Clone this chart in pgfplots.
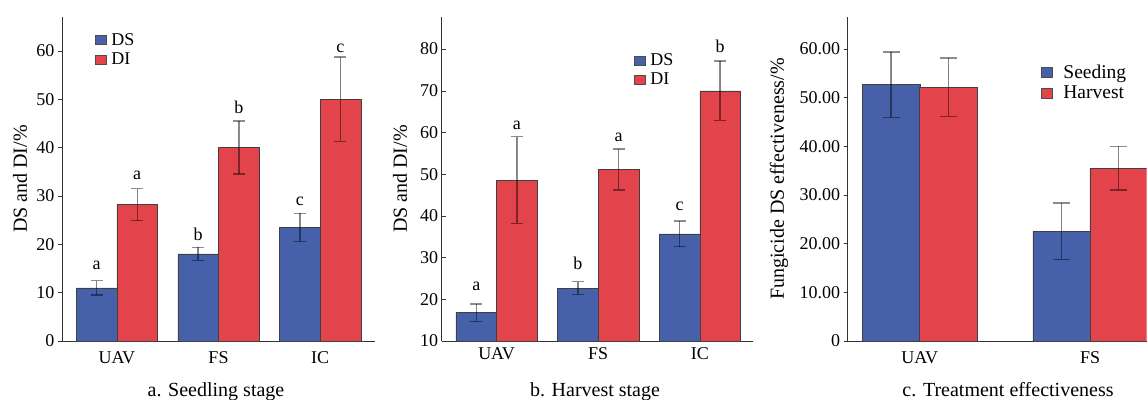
\documentclass[border=0pt]{standalone}
\usepackage{pgfplots}
\pgfplotsset{compat=1.18}
\usepackage{fontspec}
\setmainfont{Liberation Serif}
\definecolor{cblue}{RGB}{70,97,169}
\definecolor{cred}{RGB}{227,67,75}
\newcommand\fA{\fontsize{18}{21}\selectfont}
\newcommand\fB{\fontsize{20}{24}\selectfont}
\newcommand\fC{\fontsize{19.5}{23}\selectfont}
\pgfplotsset{
  panel/.style={
    scale only axis, height=324pt, anchor=south west,
    axis x line=bottom, axis y line=left,
    axis line style={-, black!80, line width=0.8pt},
    /pgf/number format/assume math mode=true,
    tick label style={font=\fA},
    xtick={0,1,2}, x tick style={draw=none},
    y tick style={black!80, line width=0.6pt}, major tick length=4pt,
    xticklabel style={yshift=-3pt},
    ylabel style={font=\fB, anchor=center},
    legend style={draw=none, fill=none, font=\fA, inner sep=0pt, outer sep=0pt, row sep=2pt},
    legend cell align=left,
    legend image code/.code={\draw[#1, draw=black!70, line width=0.6pt] (0pt,-4.5pt) rectangle (11pt,4.5pt); \path (14pt,0pt);},
    every node near coord/.append style={anchor=base, inner sep=0pt, font=\fA, black},
  },
  barp/.style={ybar, bar shift=0pt, draw=black!75, line width=0.5pt,
    error bars/y dir=both, error bars/y explicit,
    error bars/error bar style={line width=1.4pt, draw=black, draw opacity=0.45},
    error bars/error mark options={rotate=90, mark size=#1, line width=1.4pt, draw=black, draw opacity=0.45}},
  lbl/.style={ybar, bar shift=0pt, draw=none, fill=none, forget plot, nodes near coords, point meta=explicit symbolic},
}
\begin{document}
\begin{tikzpicture}
\useasboundingbox (0,0) rectangle (1147pt,399pt);
% ---------- a ----------
\begin{axis}[panel, at={(62pt,58pt)}, width=313pt,
  xmin=-0.54, xmax=2.54, ymin=0, ymax=67,
  xticklabels={UAV,FS,IC}, ytick={0,10,...,60}, tick align=outside,
  ylabel={DS and DI/\%}, ylabel style={at={(axis description cs:-0.134,0.5)}},
  legend style={at={(axis description cs:0.105,0.955)}, anchor=north west},
  bar width=0.4]
\addplot[barp=6pt, fill=cblue] coordinates {(-0.2,11.0) +- (0,1.5) (0.8,18.0) +- (0,1.35) (1.8,23.5) +- (0,2.9)};
\addplot[barp=6pt, fill=cred] coordinates {(0.2,28.2) +- (0,3.3) (1.2,40.0) +- (0,5.5) (2.2,50.0) +- (0,8.7)};
\legend{DS,DI}
\addplot[lbl] coordinates {(-0.2,14.7) [a] (0.8,20.7) [b] (1.8,28.0) [c]};
\addplot[lbl] coordinates {(0.2,33.3) [a] (1.2,47.0) [b] (2.2,59.6) [c]};
\end{axis}
% ---------- b ----------
\begin{axis}[panel, at={(441.7pt,58pt)}, width=311pt,
  xmin=-0.54, xmax=2.52, ymin=10, ymax=87.7,
  xticklabels={UAV,FS,IC}, ytick={10,20,...,80}, tick align=inside,
  ylabel={DS and DI/\%}, ylabel style={at={(axis description cs:-0.134,0.5)}},
  legend style={at={(axis description cs:0.618,0.893)}, anchor=north west},
  bar width=0.4]
\addplot[barp=6pt, fill=cblue] coordinates {(-0.2,16.8) +- (0,2.1) (0.8,22.7) +- (0,1.5) (1.8,35.7) +- (0,3.1)};
\addplot[barp=6pt, fill=cred] coordinates {(0.2,48.6) +- (0,10.4) (1.2,51.1) +- (0,4.9) (2.2,70.0) +- (0,7.1)};
\legend{DS,DI}
\addplot[lbl] coordinates {(-0.2,22.0) [a] (0.8,27.2) [b] (1.8,41.2) [c]};
\addplot[lbl] coordinates {(0.2,60.8) [a] (1.2,57.8) [a] (2.2,79.2) [b]};
\end{axis}
% ---------- c ----------
\begin{axis}[panel, at={(847.7pt,58pt)}, width=299pt,
  xmin=-0.423, xmax=1.333, ymin=0, ymax=66.6,
  xtick={0,1}, xticklabels={UAV,FS}, ytick={0,10,...,60}, tick align=outside,
  yticklabels={0,10.00,20.00,30.00,40.00,50.00,60.00},
  ylabel={Fungicide DS effectiveness/\%}, ylabel style={at={(axis description cs:-0.230,0.5)}},
  legend style={at={(axis description cs:0.646,0.858)}, anchor=north west, font=\fC},
  legend image code/.code={\draw[#1, draw=black!70, line width=0.6pt] (0pt,-5pt) rectangle (11pt,5pt); \path (20pt,0pt);},
  bar width=0.3365]
\addplot[barp=8.5pt, fill=cblue] coordinates {(-0.168,52.7) +- (0,6.7) (0.832,22.6) +- (0,5.8)};
\addplot[barp=8.5pt, fill=cred] coordinates {(0.168,52.2) +- (0,6.0) (1.168,35.5) +- (0,4.5)};
\legend{Seeding,Harvest}
\end{axis}
% captions
\node[anchor=base, font=\fB] at (216pt,2.3pt) {a. Seedling stage};
\node[anchor=base, font=\fB] at (595pt,2.3pt) {b. Harvest stage};
\node[anchor=base, font=\fB] at (1008pt,2.3pt) {c. Treatment effectiveness};
\end{tikzpicture}
\end{document}
